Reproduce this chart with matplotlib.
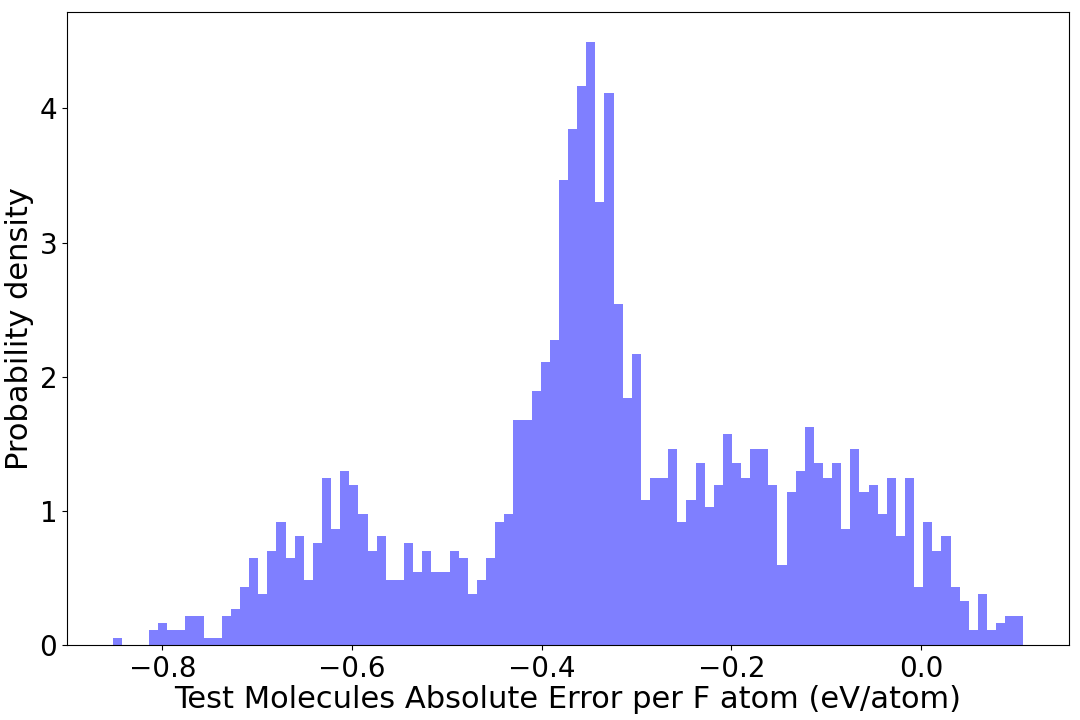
import numpy as np
import matplotlib
matplotlib.use('Agg')
import matplotlib.pyplot as plt

# histogram: 100 equal bins, counts per bin
bin_lo = -0.8525
bin_hi = 0.108
n_bins = 100
counts = [1, 0, 0, 0, 2, 3, 2, 2, 4, 4,
          1, 1, 4, 5, 8, 12, 7, 13, 17, 12,
          15, 9, 14, 23, 16, 24, 22, 18, 13, 15,
          9, 9, 14, 10, 13, 10, 10, 13, 12, 7,
          9, 12, 17, 18, 31, 31, 35, 39, 42, 64,
          71, 77, 83, 61, 76, 47, 34, 40, 20, 23,
          23, 27, 17, 20, 25, 19, 22, 29, 25, 23,
          27, 27, 22, 11, 21, 24, 30, 25, 23, 25,
          16, 27, 21, 22, 18, 23, 15, 23, 8, 17,
          13, 15, 8, 6, 2, 7, 2, 3, 4, 4]

x_label = 'Test Molecules Absolute Error per F atom (eV/atom)'
y_label = 'Probability density'

edges = np.linspace(bin_lo, bin_hi, n_bins + 1)
centers = 0.5 * (edges[:-1] + edges[1:])

fig, ax = plt.subplots(figsize=(10.8, 7.2), dpi=100)
fig.subplots_adjust(left=0.062, right=0.9898, top=0.9833, bottom=0.1042)

ax.hist(centers, bins=edges, weights=counts, density=True,
        color='blue', alpha=0.5)   # gives the #8080ff fill

ax.set_xlabel(x_label, fontsize=22, labelpad=2)
ax.set_ylabel(y_label, fontsize=22)
ax.tick_params(axis='both', labelsize=20)

fig.savefig('out.png', dpi=100)
